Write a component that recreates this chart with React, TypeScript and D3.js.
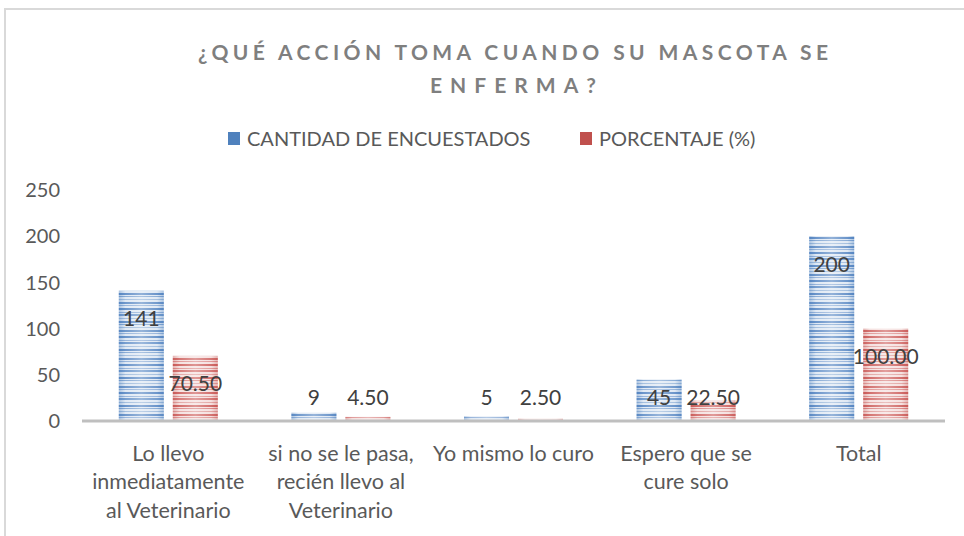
import React from "react";
import * as d3 from "d3";

const title1 = "¿QUÉ ACCIÓN TOMA CUANDO SU MASCOTA SE";
const title2 = "ENFERMA?";
const seriesNames = ["CANTIDAD DE ENCUESTADOS", "PORCENTAJE (%)"];
const categories = [
  "Lo llevo\ninmediatamente\nal Veterinario",
  "si no se le pasa,\nrecién llevo al\nVeterinario",
  "Yo mismo lo curo",
  "Espero que se\ncure solo",
  "Total",
];
const cantidad = [141, 9, 5, 45, 200];
const porcentaje = [70.5, 4.5, 2.5, 22.5, 100.0];
const cantidadLabels = ["141", "9", "5", "45", "200"];
const porcentajeLabels = ["70.50", "4.50", "2.50", "22.50", "100.00"];
const yTicks = [0, 50, 100, 150, 200, 250];

const W = 964;
const H = 536;
const FONT = "Lato, 'Noto Sans', sans-serif";

export default function App() {
  const x0 = d3.scaleBand<string>().domain(categories).range([82, 945]).paddingInner(0).paddingOuter(0);
  const y = d3.scaleLinear().domain([0, 250]).range([421, 190]);
  const barW = 45;
  const gap = 9;
  const series = [
    { values: cantidad, labels: cantidadLabels, key: "b" },
    { values: porcentaje, labels: porcentajeLabels, key: "r" },
  ];

  const stripes = [
    [0, 2, 0.9], [4, 1, 0.55], [6, 2, 0.8], [10, 1, 0.45], [13, 2, 0.9], [16, 1, 0.65],
    [19, 1, 0.45], [22, 2, 0.85], [25, 1, 0.55],
  ];

  return (
    <svg width={W} height={H} style={{ position: "absolute", left: 0, top: 0, background: "#fff" }}>
      <defs>
        <pattern id="pb" patternUnits="userSpaceOnUse" width={40} height={28}>
          <rect width={40} height={28} fill="#dde7f3" />
          {stripes.map((s, i) => (
            <rect key={i} x={0} y={s[0]} width={40} height={s[1]} fill="#4a7ebf" opacity={s[2]} />
          ))}
        </pattern>
        <pattern id="pr" patternUnits="userSpaceOnUse" width={40} height={28}>
          <rect width={40} height={28} fill="#f4dedd" />
          {stripes.map((s, i) => (
            <rect key={i} x={0} y={s[0]} width={40} height={s[1]} fill="#c9504e" opacity={s[2]} />
          ))}
        </pattern>
        <linearGradient id="shine" x1="0" x2="1" y1="0" y2="0">
          <stop offset="0" stopColor="#ffffff" stopOpacity={0} />
          <stop offset="0.5" stopColor="#ffffff" stopOpacity={0.35} />
          <stop offset="1" stopColor="#ffffff" stopOpacity={0} />
        </linearGradient>
        <linearGradient id="edgeB" x1="0" x2="1" y1="0" y2="0">
          <stop offset="0" stopColor="#4f81bd" stopOpacity={0.35} />
          <stop offset="0.15" stopColor="#4f81bd" stopOpacity={0} />
          <stop offset="0.85" stopColor="#4f81bd" stopOpacity={0} />
          <stop offset="1" stopColor="#4f81bd" stopOpacity={0.35} />
        </linearGradient>
        <linearGradient id="edgeR" x1="0" x2="1" y1="0" y2="0">
          <stop offset="0" stopColor="#c0504d" stopOpacity={0.3} />
          <stop offset="0.15" stopColor="#c0504d" stopOpacity={0} />
          <stop offset="0.85" stopColor="#c0504d" stopOpacity={0} />
          <stop offset="1" stopColor="#c0504d" stopOpacity={0.3} />
        </linearGradient>
      </defs>

      {/* chart frame */}
      <path d={`M5,${H + 5} V9 H${W + 5}`} fill="none" stroke="#d9d9d9" strokeWidth={2} />

      {/* title */}
      <text x={513} y={60} textAnchor="middle" fill="#7f7f7f" fontFamily={FONT} fontWeight={700} fontSize={21}
        textLength={630} lengthAdjust="spacing">{title1}</text>
      <text x={513} y={93} textAnchor="middle" fill="#7f7f7f" fontFamily={FONT} fontWeight={700} fontSize={21}
        textLength={166} lengthAdjust="spacing">{title2}</text>

      {/* legend */}
      <rect x={228} y={132} width={12} height={13} fill="#4f81bd" />
      <text x={247} y={146} fill="#595959" fontFamily={FONT} fontSize={20}>{seriesNames[0]}</text>
      <rect x={580} y={132} width={12} height={13} fill="#c0504d" />
      <text x={599} y={146} fill="#595959" fontFamily={FONT} fontSize={20}>{seriesNames[1]}</text>

      {/* y tick labels */}
      {yTicks.map((t) => (
        <text key={t} x={60} y={y(t)} dy="0.36em" textAnchor="end" fill="#595959" fontFamily={FONT} fontSize={20}>
          {t}
        </text>
      ))}

      {/* bars */}
      {categories.map((c, i) => {
        const cx = (x0(c) as number) + x0.bandwidth() / 2;
        return (
          <g key={c}>
            {series.map((s, j) => {
              const bx = cx - gap / 2 - barW + j * (barW + gap);
              const top = y(s.values[i]);
              const h = y(0) - top;
              return (
                <g key={s.key}>
                  <rect x={bx} y={top} width={barW} height={h} fill={j === 0 ? "url(#pb)" : "url(#pr)"} />
                  <rect x={bx} y={top} width={barW} height={h} fill="url(#shine)" />
                  <rect x={bx} y={top} width={barW} height={h} fill={j === 0 ? "url(#edgeB)" : "url(#edgeR)"} />
                </g>
              );
            })}
          </g>
        );
      })}

      {/* x axis line */}
      <line x1={82} x2={945} y1={421} y2={421} stroke="#bfbfbf" strokeWidth={3} />

      {/* data labels */}
      {categories.map((c, i) => {
        const cx = (x0(c) as number) + x0.bandwidth() / 2;
        return series.map((s, j) => {
          const lx = cx - gap / 2 - barW / 2 + j * (barW + gap);
          const ly = Math.min(y(s.values[i]) + 28, 397);
          return (
            <text key={c + s.key} x={lx} y={ly} dy="0.36em" textAnchor="middle" fill="#404040" fontFamily={FONT} fontSize={21}>
              {s.labels[i]}
            </text>
          );
        });
      })}

      {/* category labels */}
      {categories.map((c) => {
        const cx = (x0(c) as number) + x0.bandwidth() / 2;
        return (
          <text key={c} x={cx} y={453} textAnchor="middle" fill="#595959" fontFamily={FONT} fontSize={21.5}>
            {c.split("\n").map((line, k) => (
              <tspan key={k} x={cx} y={453 + k * 28.5} dy="0.36em">{line}</tspan>
            ))}
          </text>
        );
      })}
    </svg>
  );
}
